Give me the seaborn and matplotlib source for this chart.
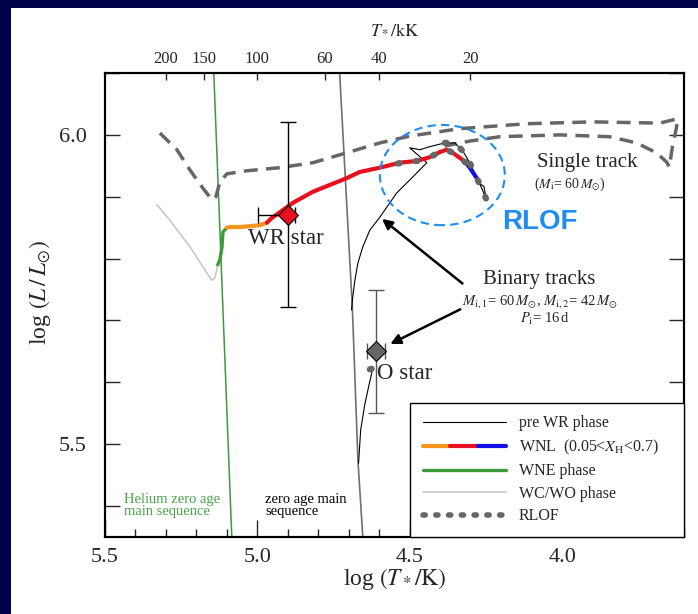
import numpy as np
import matplotlib
matplotlib.use("Agg")
import matplotlib.pyplot as plt
from matplotlib.patches import Ellipse, Rectangle
from matplotlib.lines import Line2D
from matplotlib.legend_handler import HandlerTuple
from matplotlib.ticker import MultipleLocator, NullLocator
import seaborn as sns

# ---- values (log T*, log L/Lsun) ----
he_zams_logt = [5.143, 5.084]
he_zams_logl = [6.10, 5.35]

zams_logt = [4.730, 4.688, 4.670, 4.654]
zams_logl = [6.10, 5.717, 5.474, 5.35]

single_logt = [5.320, 5.264, 5.221, 5.179, 5.149, 5.136, 5.123, 5.100, 5.034, 4.926,
               4.818, 4.707, 4.598, 4.500, 4.336, 4.116, 3.900, 3.680, 3.638, 3.621,
               3.625, 3.638, 3.648, 3.657, 3.690, 3.756, 3.844, 4.008, 4.205, 4.303, 4.385]
single_logl = [6.003, 5.976, 5.943, 5.914, 5.895, 5.900, 5.924, 5.937, 5.942, 5.947,
               5.955, 5.971, 5.987, 5.998, 6.010, 6.018, 6.021, 6.019, 6.024, 6.026,
               6.011, 5.981, 5.948, 5.956, 5.971, 5.987, 5.997, 6.000, 5.997, 5.990, 5.982]

# primary (binary) track, split by phase
prewr_logt = [4.691, 4.687, 4.680, 4.670, 4.654, 4.631, 4.598, 4.543, 4.490, 4.444,
              4.500, 4.467, 4.434, 4.385, 4.352, 4.326, 4.303, 4.284, 4.264, 4.248,
              4.257, 4.274]
prewr_logl = [5.717, 5.738, 5.765, 5.793, 5.819, 5.846, 5.867, 5.906, 5.932, 5.955,
              5.979, 5.976, 5.981, 5.987, 5.987, 5.974, 5.955, 5.934, 5.914, 5.895,
              5.917, 5.922]

wnl_blue_logt = [4.274, 4.280, 4.303, 4.316]
wnl_blue_logl = [5.922, 5.930, 5.947, 5.955]

wnl_red_logt = [4.316, 4.336, 4.359, 4.379, 4.402, 4.434, 4.474, 4.533, 4.598, 4.664,
                4.707, 4.818, 4.884, 4.926, 4.952, 4.969]
wnl_red_logl = [5.955, 5.963, 5.971, 5.976, 5.972, 5.964, 5.958, 5.955, 5.947, 5.940,
                5.930, 5.908, 5.890, 5.875, 5.866, 5.858]

wnl_orange_logt = [4.969, 4.992, 5.015, 5.057, 5.090, 5.100]
wnl_orange_logl = [5.858, 5.854, 5.853, 5.851, 5.851, 5.850]

wne_logt = [5.100, 5.113, 5.116, 5.123, 5.130]
wne_logl = [5.850, 5.843, 5.819, 5.798, 5.790]

wcwo_logt = [5.130, 5.139, 5.149, 5.166, 5.221, 5.287, 5.330]
wcwo_logl = [5.790, 5.769, 5.765, 5.777, 5.819, 5.862, 5.887]

# secondary track
second_logt = [4.668, 4.661, 4.648, 4.634, 4.621]
second_logl = [5.469, 5.523, 5.563, 5.595, 5.623]

# RLOF pieces
rlof_a_logt = [4.385, 4.352, 4.326, 4.303, 4.284, 4.264, 4.248]
rlof_a_logl = [5.987, 5.987, 5.974, 5.955, 5.934, 5.914, 5.895]
rlof_b_logt = [4.316, 4.336, 4.359, 4.379, 4.402, 4.434, 4.474, 4.550]
rlof_b_logl = [5.955, 5.963, 5.971, 5.976, 5.972, 5.964, 5.958, 5.953]
rlof_c_logt = [4.631, 4.611]
rlof_c_logl = [5.621, 5.624]

# observed stars
wr_logt, wr_logl = 4.90, 5.871
wr_xerr = [[0.025], [0.097]]
wr_yerr = 0.15
o_logt, o_logl = 4.611, 5.650
o_xerr = 0.03
o_yerr = 0.10

top_ticks_kK = [200, 150, 100, 60, 40, 20]

# ---- style ----
sns.set_style("ticks")
plt.rcParams['font.family'] = ['Liberation Serif', 'DejaVu Serif']
plt.rcParams['mathtext.fontset'] = 'stix'

fig = plt.figure(figsize=(6.98, 6.14), dpi=100, facecolor='#00004a')
fig.add_artist(Rectangle((11 / 698, 0), 1, 1 - 8 / 614, transform=fig.transFigure,
                         facecolor='white', edgecolor='none', zorder=-5))
ax = fig.add_axes([105 / 698, 1 - 537 / 614, 579 / 698, 464 / 614])

ORANGE, RED, BLUE = '#f7941d', '#e8101e', '#1010e6'
GREEN = '#3c9a3c'
LGRAY = '#c4c4c4'
DGRAY = '#666666'
RLOF_BLUE = '#1e8cf0'
DOTS = (0, (0.3, 2.6))

# reference lines
sns.lineplot(x=he_zams_logt, y=he_zams_logl, ax=ax, sort=False, estimator=None,
             color=GREEN, lw=1.1)
sns.lineplot(x=zams_logt, y=zams_logl, ax=ax, sort=False, estimator=None,
             color='#707070', lw=1.2)

# single star track
sns.lineplot(x=single_logt, y=single_logl, ax=ax, sort=False, estimator=None,
             color=DGRAY, lw=2.5, linestyle=(0, (4, 2.4)))

# binary tracks
sns.lineplot(x=second_logt, y=second_logl, ax=ax, sort=False, estimator=None, color='k', lw=0.8)
sns.lineplot(x=prewr_logt, y=prewr_logl, ax=ax, sort=False, estimator=None, color='k', lw=0.8)
sns.lineplot(x=wcwo_logt, y=wcwo_logl, ax=ax, sort=False, estimator=None, color=LGRAY, lw=1.1)
sns.lineplot(x=wne_logt, y=wne_logl, ax=ax, sort=False, estimator=None, color=GREEN, lw=2.4)
sns.lineplot(x=wnl_orange_logt, y=wnl_orange_logl, ax=ax, sort=False, estimator=None,
             color=ORANGE, lw=3)
sns.lineplot(x=wnl_red_logt, y=wnl_red_logl, ax=ax, sort=False, estimator=None, color=RED, lw=3)
sns.lineplot(x=wnl_blue_logt, y=wnl_blue_logl, ax=ax, sort=False, estimator=None, color=BLUE, lw=3)

for xs, ys in [(rlof_a_logt, rlof_a_logl), (rlof_b_logt, rlof_b_logl), (rlof_c_logt, rlof_c_logl)]:
    sns.lineplot(x=xs, y=ys, ax=ax, sort=False, estimator=None, color=DGRAY, lw=4.5,
                 linestyle=DOTS, dash_capstyle='round', solid_capstyle='round')

# RLOF region
ax.add_patch(Ellipse((4.393, 5.935), 0.41, 0.162, fill=False, edgecolor=RLOF_BLUE,
                     lw=1.5, linestyle=(0, (4, 2.5)), zorder=4))
ax.text(4.074, 5.859, 'RLOF', color=RLOF_BLUE, fontsize=20, fontweight='bold',
        family='Liberation Sans', ha='center', va='center')

# observed stars
ax.errorbar(wr_logt, wr_logl, xerr=wr_xerr, yerr=wr_yerr, fmt='none', ecolor='k',
            elinewidth=1, capsize=6, capthick=1, zorder=5)
ax.plot(wr_logt, wr_logl, 'D', ms=10.5, mfc=RED, mec='k', mew=0.8, zorder=6)
ax.errorbar(o_logt, o_logl, xerr=o_xerr, yerr=o_yerr, fmt='none', ecolor='#555555',
            elinewidth=1, capsize=6, capthick=1, zorder=5)
ax.plot(o_logt, o_logl, 'D', ms=10.5, mfc='#666666', mec='k', mew=0.8, zorder=6)

ax.text(5.031, 5.833, 'WR star', fontsize=16.5, ha='left', va='center')
ax.text(4.608, 5.614, 'O star', fontsize=16.5, ha='left', va='center')

# annotations
ax.text(3.916, 5.956, 'Single track', fontsize=15, ha='center', va='center')
ax.text(3.975, 5.920, r'($M_{\rm i}$= 60$\,M_{\odot}$)', fontsize=10, ha='center', va='center')
ax.text(4.074, 5.767, 'Binary tracks', fontsize=15, ha='center', va='center')
ax.text(4.074, 5.731, r'$M_{\rm i,1}$= 60$\,M_{\odot}$, $M_{\rm i,2}$= 42$\,M_{\odot}$',
        fontsize=10.5, ha='center', va='center')
ax.text(4.057, 5.702, r'$P_{\rm i}$= 16$\,$d', fontsize=10.5, ha='center', va='center')
ax.annotate('', xy=(4.598, 5.867), xytext=(4.320, 5.757),
            arrowprops=dict(arrowstyle='-|>', color='k', lw=1.8, mutation_scale=15))
ax.annotate('', xy=(4.572, 5.660), xytext=(4.326, 5.720),
            arrowprops=dict(arrowstyle='-|>', color='k', lw=1.8, mutation_scale=15))

ax.text(5.438, 5.401, 'Helium zero age\nmain sequence', color='#4aa54a', fontsize=10.5,
        ha='left', va='center', linespacing=0.85)
ax.text(4.975, 5.401, 'zero age main\nsequence', color='k', fontsize=10.5,
        ha='left', va='center', linespacing=0.85)

# axes
ax.set_xlim(5.5, 3.6)
ax.set_ylim(5.35, 6.10)
ax.xaxis.set_major_locator(MultipleLocator(0.5))
ax.xaxis.set_minor_locator(MultipleLocator(0.1))
ax.yaxis.set_major_locator(MultipleLocator(0.5))
ax.yaxis.set_minor_locator(MultipleLocator(0.1))
ax.xaxis.set_major_formatter('{x:.1f}')
ax.yaxis.set_major_formatter('{x:.1f}')

ax2 = ax.twiny()
ax2.set_xlim(ax.get_xlim())
ax2.set_xticks(np.log10(np.array(top_ticks_kK) * 1e3))
ax2.set_xticklabels([str(t) for t in top_ticks_kK])
ax2.xaxis.set_minor_locator(NullLocator())
ax2.tick_params(axis='x', direction='in', length=5, width=1, labelsize=12, pad=4)
ax2.set_xlabel(r'$T_*/{\rm kK}$', fontsize=13)
ax2.xaxis.set_label_coords(0.5, 1.085)

ax.tick_params(axis='both', which='both', direction='in', width=1, right=True, top=False)
ax.tick_params(axis='x', which='major', length=12, labelsize=16, pad=8)
ax.tick_params(axis='x', which='minor', length=6)
ax.tick_params(axis='y', which='both', length=11, labelsize=16, pad=13)

for a in (ax, ax2):
    for s in a.spines.values():
        s.set_linewidth(1.5)
        s.set_color('k')

ax.set_xlabel(r'log $(T_*/{\rm K})$', fontsize=17)
ax.xaxis.set_label_coords(0.5, -0.062)
ax.set_ylabel(r'log $(L\,/\,L_{\odot})$', fontsize=17)
ax.yaxis.set_label_coords(-0.09, 0.526)

# legend
h_pre = Line2D([], [], color='k', lw=0.8)
h_wnl = (Line2D([], [], color=ORANGE, lw=3), Line2D([], [], color=RED, lw=3),
         Line2D([], [], color=BLUE, lw=3))
h_wne = Line2D([], [], color=GREEN, lw=2.4)
h_wc = Line2D([], [], color=LGRAY, lw=1.1)
h_rlof = Line2D([], [], color=DGRAY, lw=4, linestyle=(0, (0.4, 1.9)), dash_capstyle='round')
x0 = (410 - 105) / 579
leg = ax2.legend([h_pre, h_wnl, h_wne, h_wc, h_rlof],
                 ['pre WR phase', r'WNL  (0.05<$X_{\rm H}$<0.7)', 'WNE phase', 'WC/WO phase', 'RLOF'],
                 handler_map={tuple: HandlerTuple(ndivide=None, pad=0)},
                 loc='lower left', bbox_to_anchor=(x0, 0, 1 - x0, 0.3), mode='expand',
                 borderaxespad=0, fancybox=False, framealpha=1,
                 edgecolor='k', fontsize=11.5, handlelength=5.2, handletextpad=0.8,
                 labelspacing=0.4, borderpad=0.8)
leg.get_frame().set_linewidth(1.0)

fig.savefig('out.png', dpi=100, facecolor=fig.get_facecolor())
